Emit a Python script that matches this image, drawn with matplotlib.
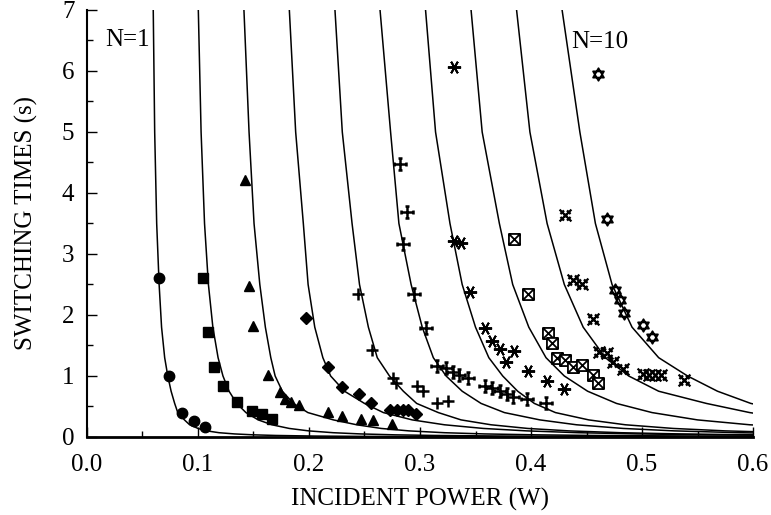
import numpy as np
import matplotlib
matplotlib.use("Agg")
import matplotlib.pyplot as plt
from matplotlib.path import Path

plt.rcParams['font.family'] = ['Liberation Serif', 'DejaVu Serif']

# switching time levels (s) shared by all model curves
T_LEVELS = [7, 5, 3.5, 2.5, 1.8, 1.3, 1.0, 0.75, 0.55, 0.4, 0.28, 0.2, 0.14,
            0.1, 0.07, 0.05, 0.035, 0.025, 0.015, 0.01, 0.005, 0.002]

# incident power (W) of each model curve at those levels, N=1 ... N=10
curve_p = [
    [0.0597, 0.0610, 0.0628, 0.0650, 0.0672, 0.0700, 0.0728, 0.0758, 0.0790, 0.0818, 0.0878,
     0.0925, 0.1000, 0.1080, 0.1190, 0.1330, 0.1500, 0.1700, 0.2050, 0.2450, 0.3400, 0.6000],
    [0.1003, 0.1028, 0.1059, 0.1094, 0.1134, 0.1181, 0.1225, 0.1280, 0.1349, 0.1432, 0.1543,
     0.1666, 0.1822, 0.1997, 0.2218, 0.2465, 0.2776, 0.3126, 0.3783, 0.4438, 0.5920, 0.8850],
    [0.1414, 0.1460, 0.1505, 0.1557, 0.1607, 0.1656, 0.1695, 0.1760, 0.1860, 0.1990, 0.2220,
     0.2430, 0.2650, 0.2900, 0.3220, 0.3580, 0.4050, 0.4550, 0.5500, 0.6400],
    [0.1823, 0.1880, 0.1949, 0.1992, 0.2052, 0.2125, 0.2195, 0.2320, 0.2500, 0.2670, 0.2930,
     0.3220, 0.3570, 0.3960, 0.4430, 0.4960, 0.5640, 0.6400],
    [0.2234, 0.2300, 0.2388, 0.2455, 0.2535, 0.2615, 0.2725, 0.2850, 0.2970, 0.3165, 0.3370,
     0.3640, 0.3970, 0.4340, 0.4810, 0.5340, 0.6000, 0.6740],
    [0.2640, 0.2735, 0.2810, 0.2920, 0.3020, 0.3120, 0.3235, 0.3380, 0.3550, 0.3760, 0.4080,
     0.4410, 0.4830, 0.5290, 0.5880, 0.6540],
    [0.3050, 0.3140, 0.3270, 0.3380, 0.3500, 0.3620, 0.3745, 0.3880, 0.4030, 0.4220, 0.4520,
     0.4850, 0.5280, 0.5750, 0.6350],
    [0.3460, 0.3560, 0.3715, 0.3835, 0.3980, 0.4135, 0.4300, 0.4510, 0.4770, 0.5090, 0.5500,
     0.5970, 0.6560],
    [0.3870, 0.3990, 0.4145, 0.4300, 0.4470, 0.4670, 0.4880, 0.5150, 0.5580, 0.5970, 0.6400],
    [0.4280, 0.4440, 0.4580, 0.4730, 0.4910, 0.5150, 0.5410, 0.5680, 0.5980, 0.6400],
]

# measured points, one series per N
p1 = [0.065, 0.074, 0.086, 0.096, 0.106]
t1 = [2.60, 1.00, 0.39, 0.27, 0.17]

p2 = [0.1042, 0.1093, 0.1144, 0.1222, 0.1354, 0.1490, 0.1573, 0.1670]
t2 = [2.61, 1.72, 1.15, 0.83, 0.58, 0.43, 0.38, 0.29]

p3 = [0.1423, 0.1462, 0.1493, 0.1634, 0.1739, 0.1784, 0.1835, 0.1910, 0.2174, 0.2300,
      0.2465, 0.2580, 0.2750]
t3 = [4.21, 2.48, 1.82, 1.02, 0.74, 0.63, 0.58, 0.52, 0.41, 0.35, 0.30, 0.28, 0.22]

p4 = [0.1973, 0.2174, 0.2294, 0.2450, 0.2555, 0.2730, 0.2790, 0.2845, 0.2890, 0.2960]
t4 = [1.95, 1.15, 0.82, 0.71, 0.56, 0.44, 0.44, 0.44, 0.44, 0.37]

p5 = [0.2444, 0.2571, 0.2757, 0.2787, 0.2970, 0.3026, 0.3150, 0.3255]
t5 = [2.34, 1.43, 0.97, 0.88, 0.84, 0.75, 0.56, 0.59]

p6 = [0.2820, 0.2880, 0.2844, 0.2949, 0.3054, 0.3156, 0.3234, 0.3294, 0.3348, 0.3435,
      0.3586, 0.3646, 0.3718, 0.3781, 0.3841, 0.3961, 0.4135]
t6 = [4.47, 3.69, 3.16, 2.34, 1.78, 1.17, 1.13, 1.07, 1.02, 0.97, 0.84, 0.80, 0.75,
      0.70, 0.66, 0.62, 0.55]

p7 = [0.3306, 0.3306, 0.3366, 0.3450, 0.3586, 0.3646, 0.3724, 0.3775, 0.3850, 0.3976,
      0.4141, 0.4297]
t7 = [6.07, 3.22, 3.18, 2.38, 1.78, 1.57, 1.44, 1.23, 1.41, 1.08, 0.91, 0.79]

p8 = [0.3845, 0.3973, 0.4150, 0.4186, 0.4231, 0.4306, 0.4381, 0.4456, 0.4555, 0.4606]
t8 = [3.25, 2.34, 1.70, 1.54, 1.30, 1.26, 1.15, 1.18, 1.02, 0.88]

p9 = [0.4302, 0.4375, 0.4456, 0.4555, 0.4610, 0.4680, 0.4735, 0.4830, 0.5010, 0.5065,
      0.5120, 0.5170, 0.5378]
t9 = [3.64, 2.58, 2.51, 1.93, 1.40, 1.38, 1.23, 1.12, 1.03, 1.01, 1.01, 1.01, 0.93]

p10 = [0.4606, 0.4682, 0.4757, 0.4802, 0.4838, 0.5006, 0.5087]
t10 = [5.95, 3.58, 2.41, 2.25, 2.03, 1.83, 1.64]


def seg_path(segs, closed=()):
    # build a marker path from line segments (polylines)
    verts, codes = [], []
    for i, s in enumerate(segs):
        verts += s
        codes += [Path.MOVETO] + [Path.LINETO] * (len(s) - 1)
        if i in closed:
            verts.append(s[0])
            codes.append(Path.CLOSEPOLY)
    return Path(verts, codes)


s = 0.35
serif_cross = seg_path([[(0, -1), (0, 1)], [(-1, 0), (1, 0)],
                        [(-s, 1), (s, 1)], [(-s, -1), (s, -1)],
                        [(-1, -s), (-1, s)], [(1, -s), (1, s)]])
box_x = seg_path([[(-1, -1), (1, -1), (1, 1), (-1, 1)],
                  [(-1, -1), (1, 1)], [(-1, 1), (1, -1)]], closed=(0,))
hatch_x = seg_path([[(-1, -1), (1, 1)], [(-1, 1), (1, -1)],
                    [(0.25, 0.85), (0.85, 0.25)], [(-0.25, 0.85), (-0.85, 0.25)],
                    [(0.25, -0.85), (0.85, -0.25)], [(-0.25, -0.85), (-0.85, -0.25)],
                    [(-0.3, 0), (0.3, 0)], [(0, -0.3), (0, 0.3)]])
h = 0.5
hexagram = seg_path([[(0, 1), (0.866, -h), (-0.866, -h)],
                     [(0, -1), (0.866, h), (-0.866, h)]], closed=(0, 1))

fig = plt.figure(figsize=(7.71, 5.15), dpi=100)
ax = fig.add_axes([0.1128, 0.1515, 0.8639, 0.8291])

for cp in curve_p:
    ax.plot(cp, T_LEVELS[:len(cp)], color='black', lw=1.1, zorder=2,
            solid_joinstyle='round')

ax.plot(p1, t1, 'o', color='black', ms=7.5, ls='none', zorder=3)
ax.plot(p2, t2, 's', color='black', ms=7.5, ls='none', zorder=3)
ax.plot(p3, t3, '^', color='black', ms=7.5, ls='none', zorder=3)
ax.plot(p4, t4, 'D', color='black', ms=6, ls='none', zorder=3)
ax.plot(p5, t5, '+', color='black', ms=9, mew=1.8, ls='none', zorder=3)
ax.plot(p6, t6, marker=serif_cross, color='black', ms=8, mew=1.8, ls='none', zorder=3)
ax.plot(p7, t7, marker=(6, 2, 90), color='black', ms=9.5, mew=1.4, ls='none', zorder=3)
ax.plot(p8, t8, marker=box_x, mfc='white', mec='black', ms=8, mew=1.3, ls='none', zorder=3)
ax.plot(p9, t9, marker=hatch_x, color='black', ms=8.5, mew=1.6, ls='none', zorder=3)
ax.plot(p10, t10, marker=hexagram, mfc='white', mec='black', ms=9, mew=1.3, ls='none', zorder=3)

ax.text(0.016, 6.5, 'N=1', fontsize=18, ha='left', va='center')
ax.text(0.436, 6.47, 'N=10', fontsize=18, ha='left', va='center')

ax.set_xlim(0, 0.6)
ax.set_ylim(0, 7)
ax.set_xticks(np.arange(0, 0.61, 0.1))
ax.set_xticklabels(['0.0', '0.1', '0.2', '0.3', '0.4', '0.5', '0.6'])
ax.set_xticks(np.arange(0.05, 0.6, 0.1), minor=True)
ax.set_yticks(range(8))
ax.set_yticks(np.arange(0.5, 7, 1.0), minor=True)
ax.tick_params(which='both', direction='in', width=1.0, labelsize=18)
ax.tick_params(which='major', length=7)
ax.tick_params(which='minor', length=4)
ax.tick_params(axis='x', pad=12)
ax.tick_params(axis='y', pad=9)

ax.spines['top'].set_visible(False)
ax.spines['right'].set_visible(False)
ax.spines['left'].set_linewidth(1.5)
ax.spines['bottom'].set_linewidth(2.0)

ax.set_xlabel('INCIDENT POWER (W)', fontsize=18, labelpad=9)
ax.set_ylabel('SWITCHING TIMES (s)', fontsize=18, labelpad=17)

fig.savefig('out.png', dpi=100)
